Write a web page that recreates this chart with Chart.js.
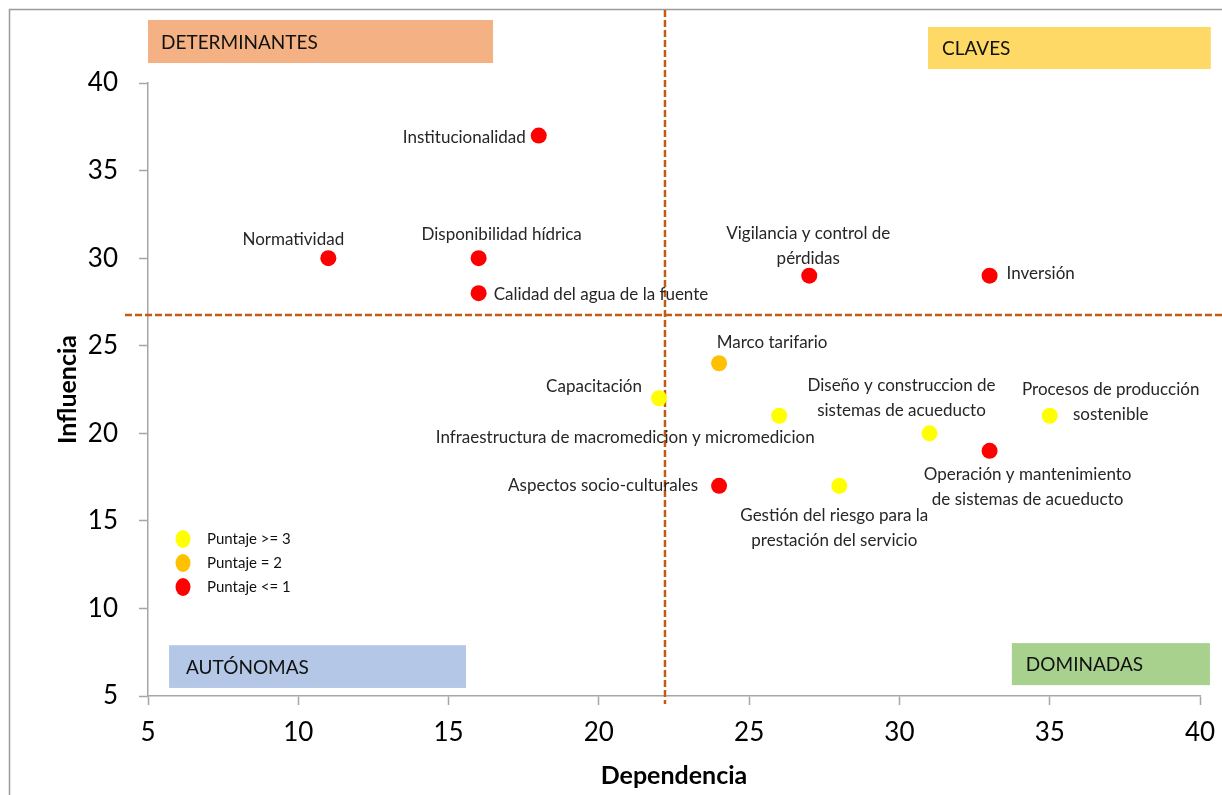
<!DOCTYPE html>
<html>
<head>
<meta charset="utf-8">
<script src="https://cdn.jsdelivr.net/npm/chart.js"></script>
<style>
  html, body { margin: 0; padding: 0; background: #fff; }
</style>
</head>
<body>
<canvas id="myChart" width="1222" height="795"></canvas>
<script>
// datos
const factores = [
  ["Institucionalidad"],
  ["Normatividad"],
  ["Disponibilidad hídrica"],
  ["Calidad del agua de la fuente"],
  ["Vigilancia y control de", "pérdidas"],
  ["Inversión"],
  ["Marco tarifario"],
  ["Capacitación"],
  ["Infraestructura de macromedicion y micromedicion"],
  ["Diseño y construccion de", "sistemas de acueducto"],
  ["Procesos de producción", "sostenible"],
  ["Operación y mantenimiento", "de sistemas de acueducto"],
  ["Aspectos socio-culturales"],
  ["Gestión del riesgo para la", "prestación del servicio"]
];
const dependencia = [18, 11, 16, 16, 27, 33, 24, 22, 26, 31, 35, 33, 24, 28];
const influencia  = [37, 30, 30, 28, 29, 29, 24, 22, 21, 20, 21, 19, 17, 17];
const puntaje     = [1, 1, 1, 1, 1, 1, 2, 3, 3, 3, 3, 1, 1, 3];

const grupos = ["Puntaje >= 3", "Puntaje = 2", "Puntaje <= 1"];
const grupoPuntaje = [3, 2, 1];
const colores = ["#FFFF00", "#FFC000", "#FF0000"];

const corteDependencia = 22.2;
const corteInfluencia = 26.75;

const cuadrantes = ["DETERMINANTES", "CLAVES", "AUTÓNOMAS", "DOMINADAS"];

// estilo: cajas de cuadrantes [x0, x1, y0, y1] en unidades de eje
const cajas = [
  [5.0, 16.48, 43.6, 41.14, "#F4B183", 13],
  [30.95, 40.36, 43.2, 40.8, "#FFD966", 14],
  [5.70, 15.58, 7.90, 5.46, "#B4C7E7", 17],
  [33.74, 40.33, 8.02, 5.62, "#A9D18E", 14]
];

// estilo: posicion de etiquetas [dx, dy, align] respecto al punto
const etiquetaPos = [
  [-13, 2, "right"],
  [-35, -19, "center"],
  [23, -24, "center"],
  [15, 1, "left"],
  [-1, -42, "center"],
  [17, -2, "left"],
  [53, -21, "center"],
  [-17, -12, "right"],
  [-154, 22, "center"],
  [-28, -48, "center"],
  [61, -26, "center"],
  [38, 24, "center"],
  [-21, 0, "right"],
  [-5, 30, "center"]
];

const F = "Lato, 'Open Sans', sans-serif";
const gris = "#A6A6A6";

const datasets = grupoPuntaje.map((p, g) => ({
  label: grupos[g],
  data: dependencia
    .map((d, i) => ({ x: d, y: influencia[i], idx: i }))
    .filter(pt => puntaje[pt.idx] === p),
  backgroundColor: colores[g],
  borderColor: colores[g],
  pointRadius: 8,
  pointHoverRadius: 8,
  borderWidth: 0
}));

const dibujo = {
  id: "dibujo",
  beforeDatasetsDraw(chart) {
    const ctx = chart.ctx;
    const xs = chart.scales.x, ys = chart.scales.y;
    ctx.save();
    // marco
    ctx.strokeStyle = "#9A9A9A";
    ctx.lineWidth = 1.5;
    ctx.beginPath();
    ctx.moveTo(9.5, 795);
    ctx.lineTo(9.5, 9.5);
    ctx.lineTo(1222, 9.5);
    ctx.stroke();

    // cajas de cuadrantes
    cajas.forEach((c, i) => {
      const x0 = xs.getPixelForValue(c[0]), x1 = xs.getPixelForValue(c[1]);
      const y0 = ys.getPixelForValue(c[2]), y1 = ys.getPixelForValue(c[3]);
      ctx.fillStyle = c[4];
      ctx.fillRect(x0, y0, x1 - x0, y1 - y0);
      ctx.fillStyle = "#111";
      ctx.font = "19px " + F;
      ctx.textAlign = "left";
      ctx.textBaseline = "middle";
      ctx.fillText(cuadrantes[i], x0 + c[5], (y0 + y1) / 2 + 1);
    });

    // lineas de corte
    ctx.strokeStyle = "#C55A11";
    ctx.lineWidth = 2.5;
    ctx.setLineDash([7, 3]);
    const vx = xs.getPixelForValue(corteDependencia);
    ctx.beginPath();
    ctx.moveTo(vx, 10);
    ctx.lineTo(vx, 704);
    ctx.stroke();
    const hy = ys.getPixelForValue(corteInfluencia);
    ctx.beginPath();
    ctx.moveTo(125, hy);
    ctx.lineTo(1222, hy);
    ctx.stroke();
    ctx.restore();
  },
  afterDatasetsDraw(chart) {
    const ctx = chart.ctx;
    ctx.save();
    ctx.font = "17px " + F;
    ctx.fillStyle = "#262626";
    ctx.textBaseline = "middle";
    chart.data.datasets.forEach((ds, di) => {
      const meta = chart.getDatasetMeta(di);
      meta.data.forEach((el, j) => {
        const i = ds.data[j].idx;
        const pos = etiquetaPos[i];
        ctx.textAlign = pos[2];
        factores[i].forEach((line, k) => {
          ctx.fillText(line, el.x + pos[0], el.y + pos[1] + k * 25);
        });
      });
    });

    // leyenda
    ctx.font = "15px " + F;
    ctx.textAlign = "left";
    chart.data.datasets.forEach((ds, di) => {
      const cy = 539 + di * 24;
      ctx.fillStyle = ds.backgroundColor;
      ctx.beginPath();
      ctx.ellipse(183, cy, 7.5, 9, 0, 0, Math.PI * 2);
      ctx.fill();
      ctx.fillStyle = "#111";
      ctx.fillText(ds.label, 207, cy);
    });
    ctx.restore();
  }
};

new Chart(document.getElementById("myChart"), {
  type: "scatter",
  data: { datasets: datasets },
  options: {
    responsive: false,
    animation: false,
    layout: { padding: { left: 0, right: 22, top: 83, bottom: 0 } },
    plugins: {
      legend: { display: false },
      tooltip: { enabled: false }
    },
    scales: {
      x: {
        type: "linear",
        min: 5,
        max: 40,
        ticks: { stepSize: 5, color: "#000", font: { family: F, size: 26 }, padding: 12 },
        grid: { drawOnChartArea: false, tickLength: 9, tickColor: gris, tickWidth: 1.5 },
        border: { color: gris, width: 1.5 },
        title: {
          display: true, text: "Dependencia", color: "#000",
          font: { family: F, size: 25, weight: "bold" },
          padding: { top: 0, bottom: 4 }
        },
        afterFit(s) { s.height = 99; s.paddingLeft = 0; s.paddingRight = 0; }
      },
      y: {
        type: "linear",
        min: 5,
        max: 40,
        ticks: { stepSize: 5, color: "#000", font: { family: F, size: 26 }, padding: 21 },
        grid: { drawOnChartArea: false, tickLength: 9, tickColor: gris, tickWidth: 1.5 },
        border: { color: gris, width: 1.5 },
        title: {
          display: true, text: "Influencia", color: "#000",
          font: { family: F, size: 25, weight: "bold" },
          padding: { top: 53, bottom: 0 }
        },
        afterFit(s) { s.width = 148; s.paddingTop = 0; s.paddingBottom = 0; }
      }
    }
  },
  plugins: [dibujo]
});
</script>
</body>
</html>
